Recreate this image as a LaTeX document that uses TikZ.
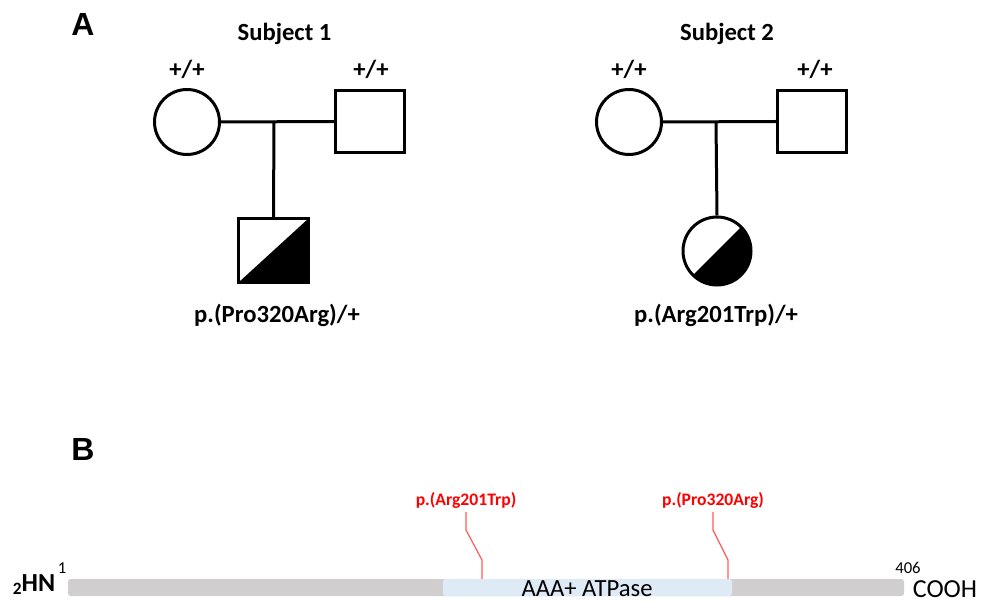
\documentclass[tikz,border=0pt]{standalone}
\usepackage{fontspec}
\setmainfont{Carlito}
\newfontfamily\arialfont{Liberation Sans}
\definecolor{bargray}{HTML}{D0CECE}
\definecolor{domblue}{HTML}{DEEBF7}
\definecolor{mutred}{HTML}{FF0000}
\definecolor{mutline}{HTML}{FF5A5A}
\begin{document}
\begin{tikzpicture}[x=0.75pt,y=-0.75pt,
  panel/.style={font=\arialfont\bfseries\fontsize{24}{26}\selectfont, anchor=base, inner sep=0pt},
  big/.style={font=\bfseries\fontsize{18.5}{20}\selectfont, anchor=base, inner sep=0pt},
  link/.style={line width=2.25pt},
  female/.style={draw, circle, line width=2.25pt, minimum size=48.75pt, inner sep=0pt, fill=white},
  male/.style={draw, rectangle, line width=2.25pt, minimum width=51.75pt, minimum height=46.5pt, inner sep=0pt, fill=white},
  halffill/.style={path picture={\fill[black] (path picture bounding box.north east) -- (path picture bounding box.south east) -- (path picture bounding box.south west) -- cycle;}},
  mutlabel/.style={font=\bfseries\fontsize{13.2}{15}\selectfont, text=mutred, anchor=base, inner sep=0pt},
  mutlink/.style={draw=mutline, line width=0.9pt},
  small/.style={font=\fontsize{12.5}{14}\selectfont, anchor=base, inner sep=0pt}
]
\useasboundingbox (0,0) rectangle (982,602);

% Panel A
\node[panel] (A) at (83,36) {A};
\node[big] (s1) at (284.5,41) {Subject 1};
\node[big] (s2) at (727,41) {Subject 2};

% Subject 1 pedigree
\node[female] (m1) at (187,122) {};
\node[male] (f1) at (370,121.5) {};
\node[male, halffill, minimum width=52.5pt, minimum height=48pt] (c1) at (273.5,250.5) {};
\coordinate (j1) at (274,121);
\draw[link] (m1.east) -- (f1.west);
\draw[link] (j1) -- (c1.north);
\node[big] (g1m) at (187,78) {+/+};
\node[big] (g1f) at (371,78) {+/+};
\node[big] (g1c) at (277,323) {p.(Pro320Arg)/+};

% Subject 2 pedigree
\node[female] (m2) at (629,122) {};
\node[male] (f2) at (812,121.5) {};
\node[female, halffill, minimum size=51pt] (c2) at (717,251) {};
\coordinate (j2) at (716,121);
\draw[link] (m2.east) -- (f2.west);
\draw[link] (j2) -- (c2.north);
\node[big] (g2m) at (629,78) {+/+};
\node[big] (g2f) at (815,78) {+/+};
\node[big] (g2c) at (716,323) {p.(Arg201Trp)/+};

% Panel B
\node[panel] (B) at (83,460) {B};
\node[fill=bargray, rounded corners=2pt, minimum width=627pt, minimum height=12.75pt, inner sep=0pt] (bar) at (486,587.5) {};
\node[fill=domblue, rounded corners=2pt, minimum width=216.75pt, minimum height=12.75pt, inner sep=0pt] (dom) at (587.5,587.5) {};
\node[font=\fontsize{18.5}{20}\selectfont, anchor=base, inner sep=0pt] (domlab) at (587,596) {AAA+ ATPase};
\node[font=\bfseries\fontsize{19.5}{21}\selectfont, anchor=base, inner sep=0pt] (nterm) at (34,591) {\raisebox{-0.15em}{\fontsize{13}{14}\selectfont 2}HN};
\node[font=\fontsize{19.5}{21}\selectfont, anchor=base, inner sep=0pt] (cterm) at (945,597) {COOH};
\node[small] (p1) at (62,573) {1};
\node[small] (p406) at (908,573) {406};

% Mutations
\node[mutlabel] (mu1) at (466,505) {p.(Arg201Trp)};
\node[mutlabel] (mu2) at (713,505) {p.(Pro320Arg)};
\coordinate (t1) at (482,579);
\coordinate (t2) at (728,579);
\draw[mutlink] (466,512) -- (466,530) -- (482,560) -- (t1);
\draw[mutlink] (713,512) -- (713,530) -- (728,560) -- (t2);
\end{tikzpicture}
\end{document}
